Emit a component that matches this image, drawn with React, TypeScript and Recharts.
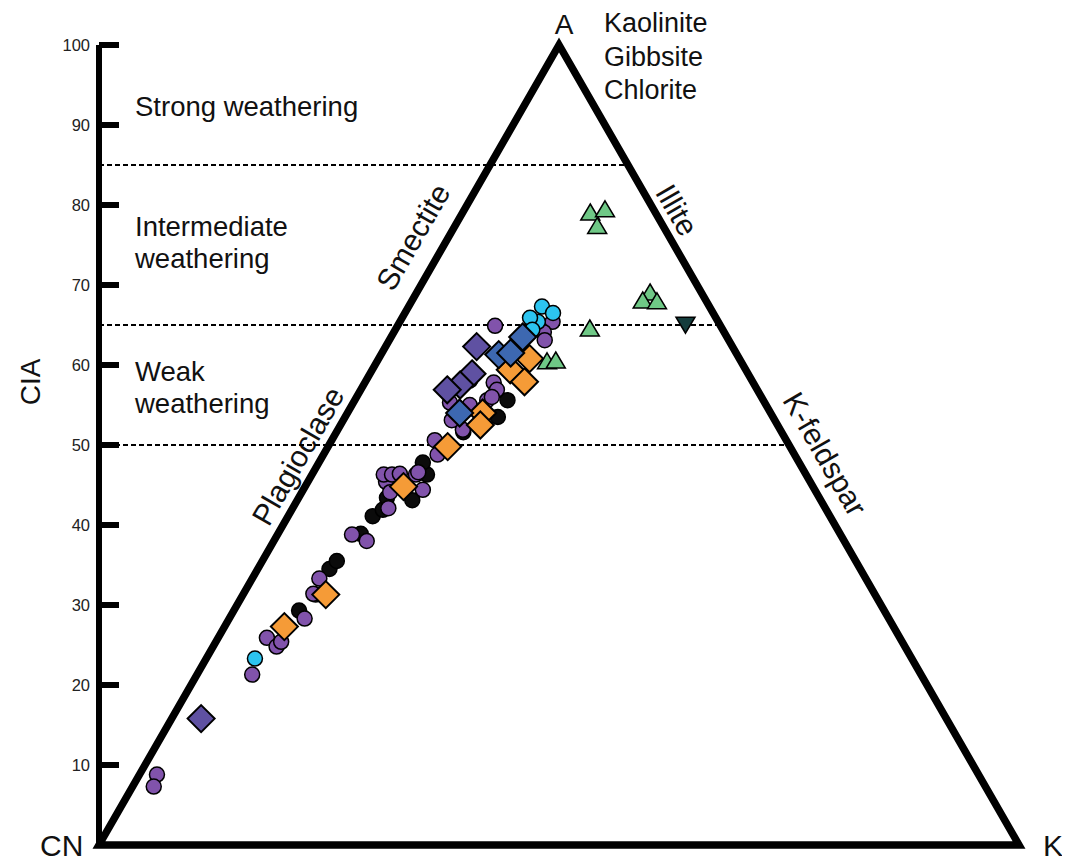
import { Customized, ReferenceLine, Scatter, ScatterChart, XAxis, YAxis } from 'recharts';

// each sample is [A (= CIA), K], both in percent; CN is the rest
type Sample = [number, number];

const CIA_TICKS = [10, 20, 30, 40, 50, 60, 70, 80, 90, 100];
const WEATHERING_BOUNDS = [50, 65, 85];

const CORNERS: Sample[] = [
  [0, 50],
  [0, 100],
  [100, 0],
  [0, 0],
  [0, 50],
];

const blackCircles: Sample[] = [
  [29.3, 7.1], [34.5, 7.8], [35.5, 8.1], [41.1, 9.2], [41.9, 9.9], [43.1, 12.5], [46.3, 12.5],
  [47.8, 11.3], [51.6, 13.8], [53.5, 16.6], [55.6, 16.6], [43.4, 9.6], [38.9, 9.0],
];

const purpleCircles: Sample[] = [
  [8.8, 1.9], [7.3, 2.3], [21.3, 6.0], [25.9, 5.3], [24.8, 6.9], [25.4, 7.1], [28.3, 8.2],
  [31.3, 7.9], [33.3, 7.3], [31.4, 7.6], [38.8, 8.1], [38.0, 10.1], [42.1, 10.4], [45.4, 8.5],
  [46.3, 7.8], [46.3, 8.7], [46.4, 9.5], [46.3, 11.3], [44.4, 13.0], [44.1, 9.6], [46.6, 11.4],
  [50.6, 11.2], [48.8, 12.4], [55.3, 10.5], [51.9, 13.6], [64.9, 10.6], [65.4, 16.6], [64.1, 16.3],
  [63.1, 16.9], [57.8, 14.0], [55.6, 14.4], [56.9, 14.8], [56.0, 14.7], [55.0, 12.8], [53.1, 11.8],
  [62.9, 14.3], [58.1, 11.3],
];

const cyanCircles: Sample[] = [[23.3, 5.3], [67.3, 14.5], [66.5, 16.1], [65.4, 15.0], [65.9, 13.9], [64.4, 14.9]];

const greenTriangles: Sample[] = [
  [79.0, 13.9], [79.4, 15.3], [77.3, 15.5], [69.0, 25.4], [68.0, 25.1], [67.9, 26.7], [64.5, 21.1],
  [60.4, 18.5], [60.5, 19.4],
];

const darkTriangles: Sample[] = [[65.1, 31.2]];

const orangeDiamonds: Sample[] = [
  [27.3, 6.5], [31.3, 9.0], [44.8, 10.7], [49.8, 13.0], [54.0, 14.7], [52.5, 15.2], [59.4, 15.0],
  [57.9, 17.3], [60.8, 16.4],
];

const purpleDiamonds: Sample[] = [[15.8, 3.2], [62.3, 9.9], [58.9, 11.1], [57.5, 10.5], [56.9, 9.4]];

const blueDiamonds: Sample[] = [[54.0, 12.2], [61.3, 12.8], [61.5, 14.0], [63.5, 14.3]];

const FONT = '"Liberation Sans", Arial, sans-serif';
const INK = '#000';

const toXY = (pts: Sample[]) => pts.map(([a, k]) => ({ x: k + a / 2, y: a }));

const circle = (fill: string) => (p: any) => (
  <circle cx={p.cx} cy={p.cy} r={7.5} fill={fill} stroke={INK} strokeWidth={1.5} />
);

const diamond = (fill: string) => (p: any) => {
  const r = 13.5;
  return (
    <polygon
      points={`${p.cx},${p.cy - r} ${p.cx + r},${p.cy} ${p.cx},${p.cy + r} ${p.cx - r},${p.cy}`}
      fill={fill}
      stroke={INK}
      strokeWidth={2}
    />
  );
};

const triangle = (fill: string, down = false) => (p: any) => {
  const s = down ? -1 : 1;
  return (
    <polygon
      points={`${p.cx},${p.cy - 9 * s} ${p.cx + 9.5},${p.cy + 7 * s} ${p.cx - 9.5},${p.cy + 7 * s}`}
      fill={fill}
      stroke={INK}
      strokeWidth={1.5}
    />
  );
};

function CiaTick({ x, y, payload }: any) {
  return (
    <g>
      <line x1={x} x2={x + 20} y1={y} y2={y} stroke={INK} strokeWidth={6} />
      <text x={x - 9} y={y} dy={6} textAnchor="end" fontSize={16.5} fontFamily={FONT} fill="#222">
        {payload.value}
      </text>
    </g>
  );
}

// rotated text centred on (x, y)
function Slanted({ x, y, angle, children }: any) {
  return (
    <text
      x={x}
      y={y}
      fontSize={30}
      fontFamily={FONT}
      fill="#111"
      textAnchor="middle"
      dominantBaseline="central"
      transform={`rotate(${angle} ${x} ${y})`}
    >
      {children}
    </text>
  );
}

function Annotations() {
  const t = { fontFamily: FONT, fill: '#111' };
  return (
    <g>
      <text {...t} x={22} y={374} fontSize={28} textAnchor="middle" dominantBaseline="central" transform="rotate(-90 22 374)">
        CIA
      </text>
      <text {...t} x={127} y={108} fontSize={27.5}>Strong weathering</text>
      <text {...t} x={127} y={228} fontSize={27.5}>Intermediate</text>
      <text {...t} x={127} y={260} fontSize={27.5}>weathering</text>
      <text {...t} x={127} y={373} fontSize={27.5}>Weak</text>
      <text {...t} x={127} y={405} fontSize={27.5}>weathering</text>
      <text {...t} x={556} y={26} fontSize={28} textAnchor="middle">A</text>
      <text {...t} x={596} y={24} fontSize={27}>Kaolinite</text>
      <text {...t} x={596} y={58} fontSize={27}>Gibbsite</text>
      <text {...t} x={596} y={91} fontSize={27}>Chlorite</text>
      <text {...t} x={32} y={848} fontSize={30}>CN</text>
      <text {...t} x={1035} y={848} fontSize={30}>K</text>
      <Slanted x={405} y={229} angle={-60}>Smectite</Slanted>
      <Slanted x={290} y={448} angle={-60}>Plagioclase</Slanted>
      <Slanted x={669} y={202} angle={60}>Illite</Slanted>
      <Slanted x={817} y={446} angle={60}>K-feldspar</Slanted>
    </g>
  );
}

export default function App() {
  return (
    <ScatterChart width={1062} height={855} margin={{ top: 37, right: 51, bottom: 18, left: 0 }}>
      <XAxis type="number" dataKey="x" domain={[0, 100]} hide />
      <YAxis
        type="number"
        dataKey="y"
        domain={[0, 100]}
        ticks={CIA_TICKS}
        interval={0}
        width={91}
        tickSize={0}
        tickMargin={0}
        tickLine={false}
        axisLine={{ stroke: INK, strokeWidth: 6 }}
        tick={<CiaTick />}
      />
      {WEATHERING_BOUNDS.map((a) => (
        <ReferenceLine
          key={a}
          segment={[
            { x: 0, y: a },
            { x: 100 - a / 2, y: a },
          ]}
          stroke={INK}
          strokeWidth={2}
          strokeDasharray="5 3"
        />
      ))}
      <Scatter
        data={toXY(CORNERS)}
        line={{ stroke: INK, strokeWidth: 7.5 }}
        lineJointType="linear"
        shape={() => <g />}
        isAnimationActive={false}
      />
      <Scatter data={toXY(blackCircles)} shape={circle('#0b0b0b')} isAnimationActive={false} />
      <Scatter data={toXY(purpleCircles)} shape={circle('#8153ab')} isAnimationActive={false} />
      <Scatter data={toXY(cyanCircles)} shape={circle('#2cc4f0')} isAnimationActive={false} />
      <Scatter data={toXY(greenTriangles)} shape={triangle('#6fc886')} isAnimationActive={false} />
      <Scatter data={toXY(darkTriangles)} shape={triangle('#143c3c', true)} isAnimationActive={false} />
      <Scatter data={toXY(orangeDiamonds)} shape={diamond('#f59b37')} isAnimationActive={false} />
      <Scatter data={toXY(purpleDiamonds)} shape={diamond('#5f51a2')} isAnimationActive={false} />
      <Scatter data={toXY(blueDiamonds)} shape={diamond('#3d68b1')} isAnimationActive={false} />
      <Customized component={Annotations} />
    </ScatterChart>
  );
}
